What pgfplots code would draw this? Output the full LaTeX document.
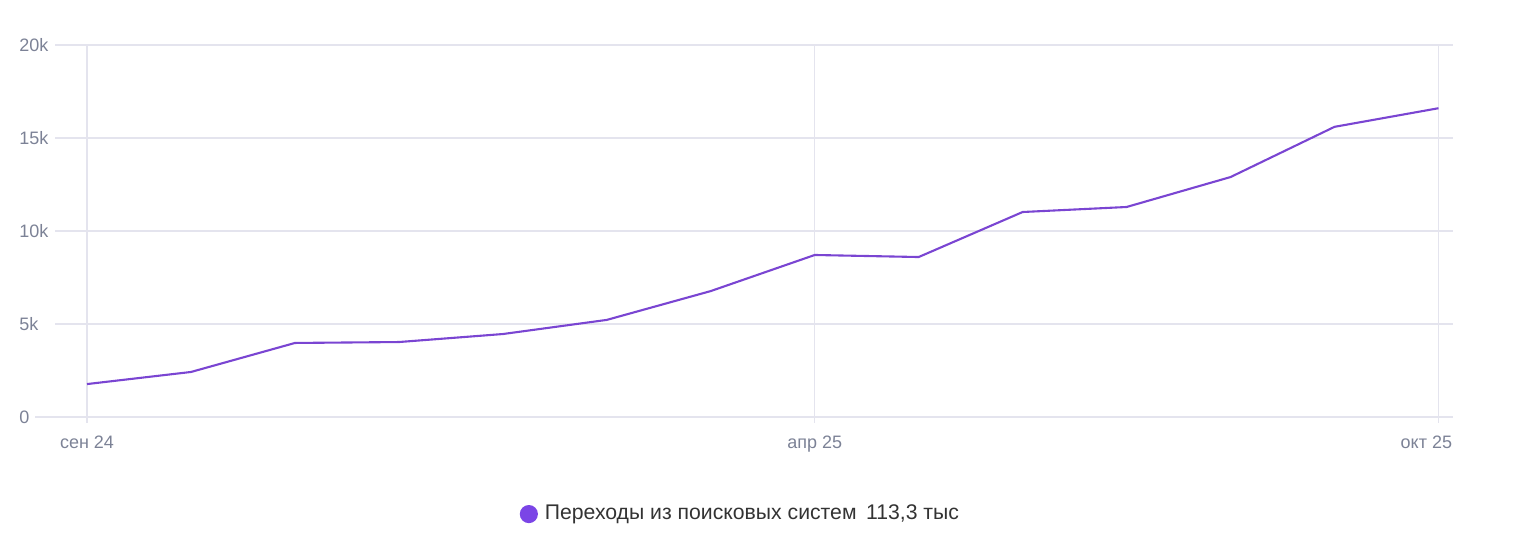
\documentclass[border=0pt]{standalone}
\usepackage{fontspec}
\setmainfont{Liberation Sans}
\usepackage{pgfplots}
\pgfplotsset{compat=1.18}

\definecolor{gridcol}{HTML}{E4E4EE}
\definecolor{tickcol}{HTML}{7C8296}
\definecolor{linecol}{HTML}{7A45D2}
\definecolor{dotcol}{HTML}{7B45E6}
\definecolor{legtext}{HTML}{333333}

\begin{document}
\begin{tikzpicture}[x=1pt,y=1pt]
\begin{axis}[
  name=ax,
  width=699pt, height=186pt,
  scale only axis,
  xmin=-0.308, xmax=13.14,
  ymin=0, ymax=20000,
  scaled y ticks=false,
  axis line style={draw=none},
  xtick={0,7}, xticklabels={сен 24,апр 25},
  extra x ticks={13}, extra x tick labels={окт 25},
  extra x tick style={
    grid=major,
    xticklabel style={anchor=north east, xshift=7pt}},
  ytick={0,5000,10000,15000,20000},
  yticklabels={0,5k,10k,15k,20k},
  xmajorgrids, ymajorgrids,
  grid style={gridcol, line width=0.55pt},
  tick align=outside,
  xtick pos=bottom,
  major tick length=3pt,
  x tick style={gridcol, line width=0.55pt},
  y tick style={draw=none},
  tick label style={font=\fontsize{9}{10}\selectfont, text=tickcol, inner sep=0pt},
  xticklabel style={yshift=-6.5pt},
  yticklabel style={anchor=west, xshift=-15pt},
  /pgf/number format/assume math mode=true,
  clip=false,
  legend style={draw=none, fill=none, at={(0.491,-0.261)}, anchor=center,
    font=\fontsize{10.6}{12}\selectfont, text=legtext},
  legend image code/.code={\fill[dotcol] (-1.5pt,0) circle (4pt);},
]
\addplot[linecol, line width=1.05pt] coordinates {
  (0,1770) (1,2420) (2,3980) (3,4030) (4,4460) (5,5220) (6,6770)
  (7,8710) (8,8600) (9,11020) (10,11290) (11,12900) (12,15600) (13,16600)
};
\addlegendentry{\hspace{1.5pt}Переходы из поисковых систем\hspace{0.45em}113,3 тыс}
\end{axis}
\draw[gridcol, line width=0.55pt] ([xshift=-10pt]ax.south west) -- (ax.south west);
\pgfresetboundingbox
\path[use as bounding box] ([shift={(-27.5pt,-71pt)}]ax.south west) rectangle ([shift={(30pt,22.5pt)}]ax.north east);
\end{tikzpicture}
\end{document}
